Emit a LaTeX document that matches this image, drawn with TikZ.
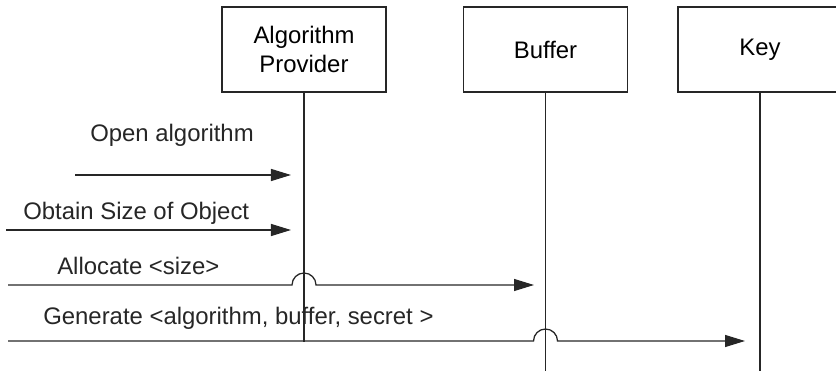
\documentclass[tikz,border=0pt]{standalone}
\usepackage{fontspec}
\setmainfont{Liberation Sans}
\usetikzlibrary{calc,arrows.meta}
\tikzset{
	actor/.style={draw=black!85, line width=0.9pt, minimum width=4.1cm, minimum height=2.125cm, align=center, inner sep=0pt},
	life/.style={draw=black!85, line width=0.9pt},
	msg/.style={draw=black!85, line width=0.9pt, -{Triangle[length=0.5cm, width=0.3cm]}},
	label/.style={anchor=west, inner sep=0pt, text=black!85},
}

\begin{document}
\begin{tikzpicture}[x=0.025cm, y=-0.025cm, font=\fontsize{17}{21}\selectfont]
			%%%%% START %%%%%
			\useasboundingbox (0, 0) rectangle (836, 373);
			\clip (0, 0) rectangle (836, 373);
			
			% boxes
			\node[actor] (prov) at (304, 49.5) {Algorithm\\Provider};
			\node[actor] (buf) at (545.5, 49.5) {Buffer};
			\node[actor] (key) at (760, 49.5) {Key};
			
			% lifelines
			\coordinate (provend) at (304, 342);
			\coordinate (bufend) at (545.5, 371);
			\coordinate (keyend) at (760, 371);
			\draw[life] (prov.south) -- (provend);
			\draw[life] (buf.south) -- (bufend);
			\draw[life] (key.south) -- (keyend);
			
			% open algorithm
			\node[label] (openlbl) at (90, 135) {Open algorithm};
			\coordinate (open1) at (75, 175);
			\coordinate (open2) at (291, 175);
			\draw[msg] (open1) -- (open2);
			
			% obtain size
			\node[label] (sizelbl) at (23, 213) {Obtain Size of Object};
			\coordinate (size1) at (6, 230);
			\coordinate (size2) at (291, 230);
			\draw[msg] (size1) -- (size2);
			
			% allocate
			\node[label] (alloclbl) at (57, 266) {Allocate <size>};
			\coordinate (alloc1) at (8, 285);
			\coordinate (alloc2) at (534, 285);
			\draw[msg] (alloc1) -- ($(prov.south |- alloc1)+(-12, 0)$)
				arc[start angle=180, end angle=0, radius=0.3cm] -- (alloc2);
			
			% generate
			\node[label] (genlbl) at (43, 318) {Generate <algorithm, buffer, secret >};
			\coordinate (gen1) at (8, 341);
			\coordinate (gen2) at (745, 341);
			\draw[msg] (gen1) -- ($(buf.south |- gen1)+(-12, 0)$)
				arc[start angle=180, end angle=0, radius=0.3cm] -- (gen2);
			
			%%%%% END %%%%%
		\end{tikzpicture}
\end{document}
